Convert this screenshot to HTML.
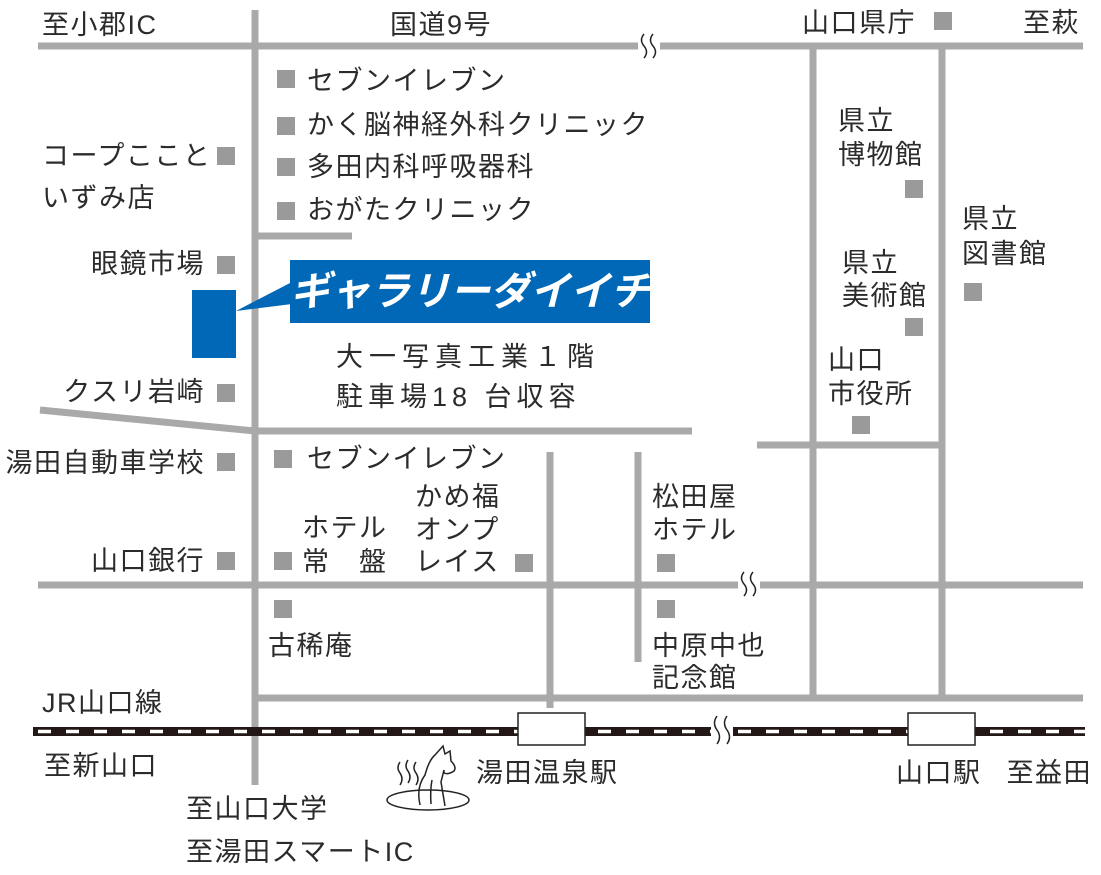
<!DOCTYPE html>
<html><head><meta charset="utf-8"><style>
html,body{margin:0;padding:0;background:#fff;}
svg{display:block}
text{font-family:"Liberation Sans","Noto Sans CJK JP",sans-serif;font-size:27px;fill:#2b2b2b;letter-spacing:1.5px;}
</style></head><body>
<svg width="1101" height="875" viewBox="0 0 1101 875" xmlns="http://www.w3.org/2000/svg">
<g stroke="#a9a9a9" stroke-width="7" fill="none">
<line x1="38" y1="46" x2="1083" y2="46"/>
<line x1="255" y1="10" x2="255" y2="785"/>
<line x1="255" y1="236" x2="352" y2="236"/>
<polyline points="40,410 255,431 692,431"/>
<line x1="757" y1="445" x2="942" y2="445"/>
<line x1="813" y1="46" x2="813" y2="697"/>
<line x1="942" y1="46" x2="942" y2="697"/>
<line x1="550" y1="452" x2="550" y2="708"/>
<line x1="638" y1="452" x2="638" y2="662"/>
<line x1="38" y1="585" x2="1083" y2="585"/>
<line x1="255" y1="698" x2="1083" y2="698"/>
</g>
<rect x="638" y="38" width="22" height="16" fill="#fff"/>
<path d="M644 34 q-5 6 0 12 q5 6 0 12 M653 34 q-5 6 0 12 q5 6 0 12" stroke="#222" stroke-width="1.5" fill="none"/>
<rect x="738" y="577" width="22" height="16" fill="#fff"/>
<path d="M744 572 q-5 6 0 12 q5 6 0 12 M753 572 q-5 6 0 12 q5 6 0 12" stroke="#222" stroke-width="1.5" fill="none"/>
<rect x="33" y="727" width="1052" height="9" fill="#231815"/>
<line x1="38" y1="731.5" x2="1085" y2="731.5" stroke="#fff" stroke-width="3.5" stroke-dasharray="13 15"/>
<rect x="711" y="722" width="22" height="18" fill="#fff"/>
<path d="M717 716 q-5 7 0 14 q5 7 0 14 M727 716 q-5 7 0 14 q5 7 0 14" stroke="#222" stroke-width="1.5" fill="none"/>
<rect x="518" y="713" width="67" height="32" fill="#fff" stroke="#222" stroke-width="1.5"/>
<rect x="908" y="713" width="67" height="32" fill="#fff" stroke="#222" stroke-width="1.5"/>
<rect x="192" y="290" width="44" height="68" fill="#0068b7"/>
<polygon points="236,311 292,282 292,304" fill="#0068b7"/>
<rect x="290" y="260" width="360" height="63" fill="#0068b7"/>
<text x="470" y="305" text-anchor="middle" style="font-size:40px;font-weight:bold;fill:#fff;font-style:italic;letter-spacing:0">ギャラリーダイイチ</text>
<g fill="#9a9a9a">
<rect x="277" y="70" width="18" height="18"/>
<rect x="277" y="117" width="18" height="18"/>
<rect x="277" y="158" width="18" height="18"/>
<rect x="277" y="202" width="18" height="18"/>
<rect x="217" y="147" width="18" height="18"/>
<rect x="217" y="256" width="18" height="18"/>
<rect x="217" y="384" width="18" height="18"/>
<rect x="217" y="453" width="18" height="18"/>
<rect x="217" y="552" width="18" height="18"/>
<rect x="274" y="450" width="18" height="18"/>
<rect x="274" y="552" width="18" height="18"/>
<rect x="274" y="600" width="18" height="18"/>
<rect x="515" y="554" width="18" height="18"/>
<rect x="657" y="554" width="18" height="18"/>
<rect x="657" y="600" width="18" height="18"/>
<rect x="934" y="12" width="18" height="18"/>
<rect x="905" y="180" width="18" height="18"/>
<rect x="905" y="318" width="18" height="18"/>
<rect x="852" y="416" width="18" height="18"/>
<rect x="964" y="283" width="18" height="18"/>
</g>
<text x="42" y="34">至小郡IC</text>
<text x="390" y="34">国道9号</text>
<text x="802" y="32">山口県庁</text>
<text x="1080" y="32" text-anchor="end">至萩</text>
<text x="307" y="90">セブンイレブン</text>
<text x="307" y="134">かく脳神経外科クリニック</text>
<text x="307" y="176">多田内科呼吸器科</text>
<text x="307" y="219">おがたクリニック</text>
<text x="42" y="165">コープここと</text>
<text x="42" y="207">いずみ店</text>
<text x="205" y="273" text-anchor="end">眼鏡市場</text>
<text x="205" y="401" text-anchor="end">クスリ岩崎</text>
<text x="205" y="472" text-anchor="end">湯田自動車学校</text>
<text x="205" y="570" text-anchor="end">山口銀行</text>
<text x="336" y="366" style="letter-spacing:6px">大一写真工業１階</text>
<text x="336" y="406" style="letter-spacing:5px">駐車場18 台収容</text>
<text x="307" y="468">セブンイレブン</text>
<text x="302" y="537">ホテル</text>
<text x="302" y="571">常　盤</text>
<text x="415" y="506">かめ福</text>
<text x="415" y="539">オンプ</text>
<text x="415" y="571">レイス</text>
<text x="652" y="506">松田屋</text>
<text x="652" y="539">ホテル</text>
<text x="268" y="655">古稀庵</text>
<text x="652" y="655">中原中也</text>
<text x="652" y="687">記念館</text>
<text x="838" y="130">県立</text>
<text x="838" y="164">博物館</text>
<text x="842" y="272">県立</text>
<text x="842" y="305">美術館</text>
<text x="828" y="369">山口</text>
<text x="828" y="403">市役所</text>
<text x="962" y="228">県立</text>
<text x="962" y="263">図書館</text>
<text x="42" y="712">JR山口線</text>
<text x="44" y="775">至新山口</text>
<text x="476" y="782">湯田温泉駅</text>
<text x="896" y="782">山口駅</text>
<text x="1092" y="782" text-anchor="end">至益田</text>
<text x="186" y="818">至山口大学</text>
<text x="186" y="861">至湯田スマートIC</text>
<g stroke="#222" stroke-width="1.5" fill="none">
<ellipse cx="428" cy="800" rx="41" ry="10"/>
<path d="M400 762 q-4 6 0 11 q4 6 0 12 M408 760 q-4 6 0 11 q4 6 0 12 M416 762 q-4 6 0 11 q4 6 0 12"/>
<path d="M420 805 q-4 -18 5 -30 q4 -15 10 -20 l8 -9 l2 8 l5 -3 l1 10 q6 6 3 10 q-6 4 -10 2 l0 -3 q-2 8 -3 12 q2 12 4 24"/>
<path d="M432 780 q-2 10 -1 24"/>
</g>
</svg>
</body></html>
